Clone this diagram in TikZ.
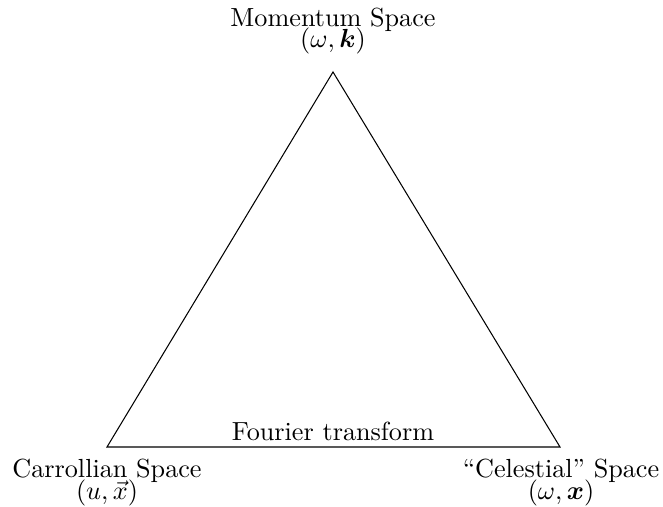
\documentclass[tikz,border=0pt]{standalone}
\usepackage{amsmath}
\begin{document}
\begin{tikzpicture}[x=0.382pt,y=-0.382pt,
  lbl/.style={anchor=base,inner sep=0pt}]
\useasboundingbox (0,0) rectangle (663,507);
\coordinate (top) at (333,72);
\coordinate (bl) at (107,447);
\coordinate (br) at (560,447);
\draw (top) -- (br) -- (bl) -- cycle;
\node[lbl] (mom) at (333,27) {Momentum Space};
\node[lbl] (momc) at (333,48) {$(\omega,\boldsymbol{k})$};
\node[lbl] (car) at (107,477) {Carrollian Space};
\node[lbl] (carc) at (107,499) {$(u,\vec{x})$};
\node[lbl] (cel) at (561,477) {``Celestial'' Space};
\node[lbl] (celc) at (561,499) {$(\omega,\boldsymbol{x})$};
\node[lbl] (ft) at (333,440) {Fourier transform};
\end{tikzpicture}
\end{document}
